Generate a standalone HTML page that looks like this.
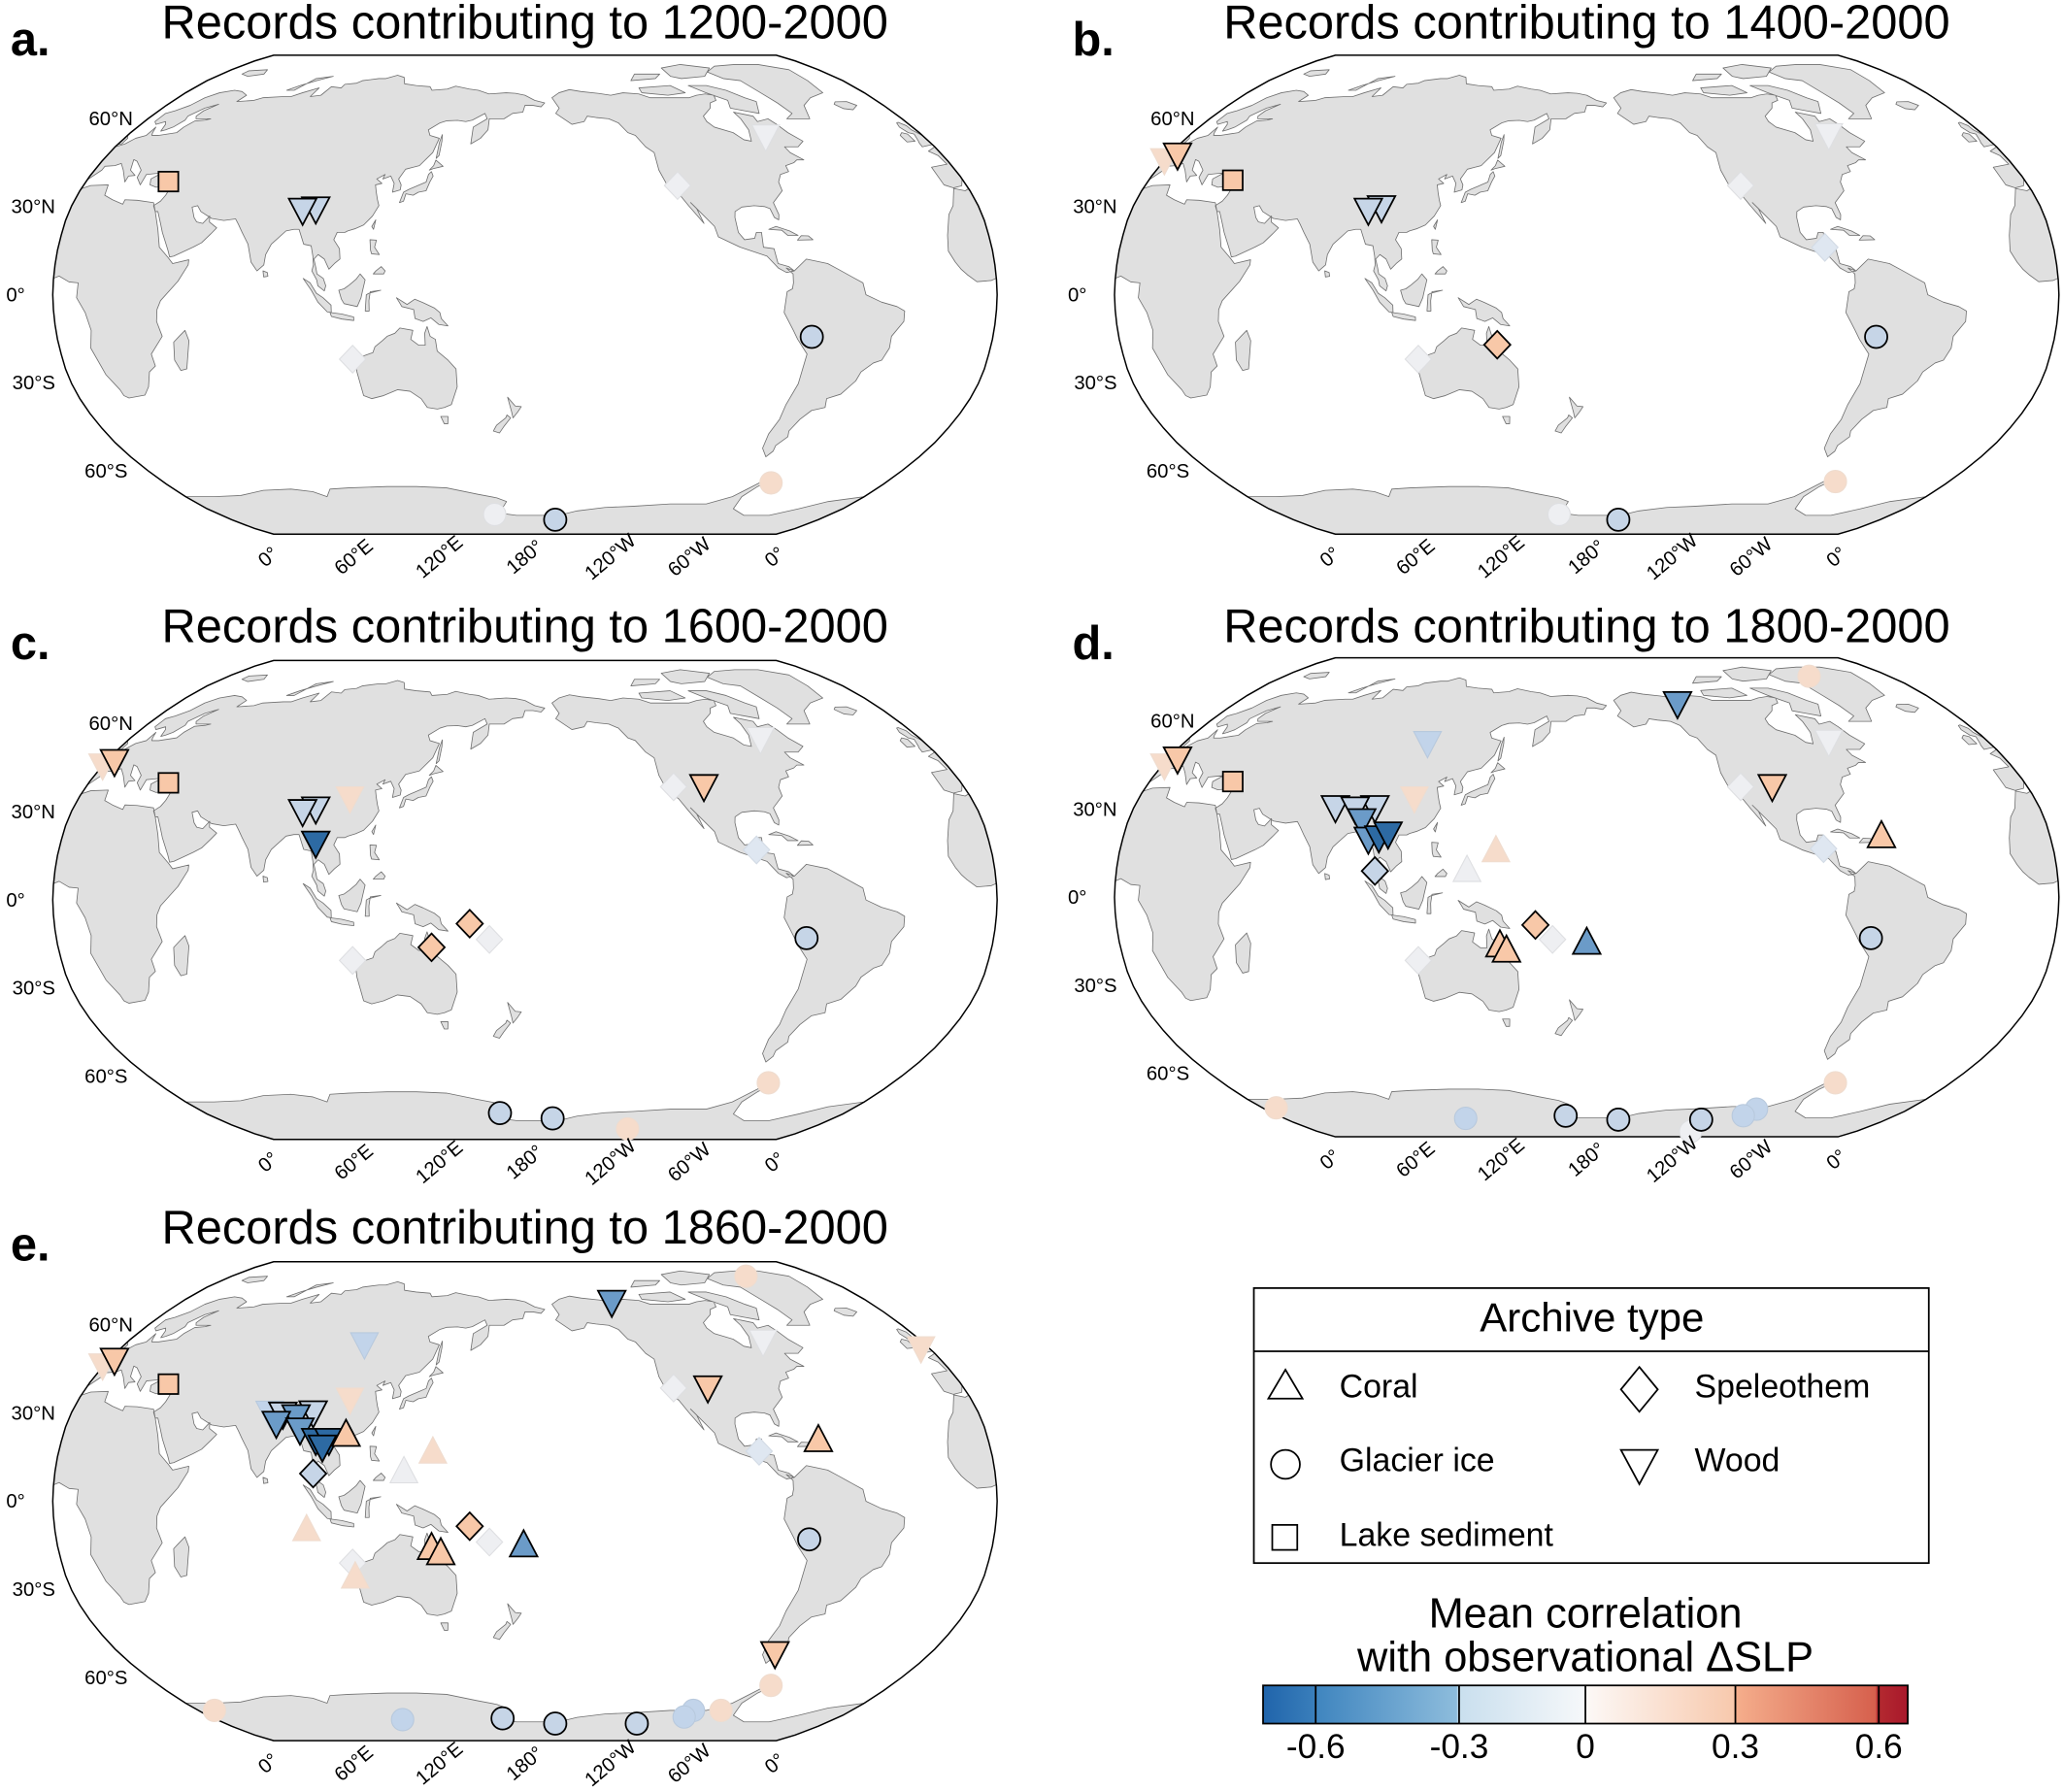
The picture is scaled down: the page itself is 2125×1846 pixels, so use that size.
<!DOCTYPE html>
<html><head><meta charset="utf-8"><style>
html,body{margin:0;padding:0;background:#fff;}
svg{display:block;}
text{font-family:"Liberation Sans",Arial,sans-serif;}
</style></head><body>
<svg id="s" xmlns="http://www.w3.org/2000/svg" width="2125" height="1846" viewBox="0 0 1568 1362" preserveAspectRatio="none">
<defs>
<linearGradient id="cb" x1="0" x2="1" y1="0" y2="0">
<stop offset="0" stop-color="#2064ab"/>
<stop offset="0.082" stop-color="#3a7fbb"/>
<stop offset="0.082" stop-color="#3f85bf"/>
<stop offset="0.3" stop-color="#8dbcdc"/>
<stop offset="0.303" stop-color="#c9dfee"/>
<stop offset="0.5" stop-color="#f6f8fa"/>
<stop offset="0.5" stop-color="#fcf9f7"/>
<stop offset="0.73" stop-color="#f8c9ad"/>
<stop offset="0.733" stop-color="#f5ae8c"/>
<stop offset="0.95" stop-color="#d6604d"/>
<stop offset="0.953" stop-color="#b42a30"/>
<stop offset="1" stop-color="#a8182b"/>
</linearGradient>
</defs>
<g id="maps"></g>
<!-- legend -->
<rect x="953" y="979" width="513" height="209" fill="#fff" stroke="#000" stroke-width="1.3"/>
<line x1="953" y1="1027" x2="1466" y2="1027" stroke="#000" stroke-width="1.3"/>
<text x="1210" y="1012" font-size="31" text-anchor="middle">Archive type</text>
<polygon points="977,1041 990,1063 964,1063" fill="none" stroke="#000" stroke-width="1.3"/>
<text x="1018" y="1062" font-size="25">Coral</text>
<circle cx="977" cy="1113" r="11" fill="none" stroke="#000" stroke-width="1.3"/>
<text x="1018" y="1118" font-size="25">Glacier ice</text>
<rect x="967" y="1159" width="19" height="19" fill="none" stroke="#000" stroke-width="1.3"/>
<text x="1018" y="1175" font-size="25">Lake sediment</text>
<polygon points="1246,1039 1260,1056 1246,1073 1232,1056" fill="none" stroke="#000" stroke-width="1.3"/>
<text x="1288" y="1062" font-size="25">Speleothem</text>
<polygon points="1232,1102 1260,1102 1246,1128" fill="none" stroke="#000" stroke-width="1.3"/>
<text x="1288" y="1118" font-size="25">Wood</text>
<!-- colorbar -->
<text x="1205" y="1237" font-size="32" text-anchor="middle">Mean correlation</text>
<text x="1205" y="1270" font-size="32" text-anchor="middle">with observational ΔSLP</text>
<rect x="960" y="1281" width="490" height="29" fill="url(#cb)" stroke="#000" stroke-width="1.3"/>
<g stroke="#000" stroke-width="1.3">
<line x1="1000" y1="1281" x2="1000" y2="1310"/><line x1="1109" y1="1281" x2="1109" y2="1310"/>
<line x1="1205" y1="1281" x2="1205" y2="1310"/><line x1="1319" y1="1281" x2="1319" y2="1310"/>
<line x1="1428" y1="1281" x2="1428" y2="1310"/></g>
<g font-size="26" text-anchor="middle">
<text x="1000" y="1336">-0.6</text><text x="1109" y="1336">-0.3</text><text x="1205" y="1336">0</text>
<text x="1319" y="1336">0.3</text><text x="1428" y="1336">0.6</text></g>
</svg>
<script>
(function(){
var NS="http://www.w3.org/2000/svg";
var XT=[1,0.9986,0.9954,0.99,0.9822,0.973,0.96,0.9427,0.9216,0.8962,0.8679,0.835,0.7986,0.7597,0.7186,0.6732,0.6213,0.5722,0.5322];
var YT=[0,0.062,0.124,0.186,0.248,0.31,0.372,0.434,0.4958,0.5571,0.6176,0.6769,0.7346,0.7903,0.8435,0.8936,0.9394,0.9761,1];
var R=134.6;
function rob(d,lat){var a=Math.abs(lat)/5,i=Math.floor(a),f=a-i;if(i>=18){i=17;f=1;}
var X=XT[i]+(XT[i+1]-XT[i])*f,Y=YT[i]+(YT[i+1]-YT[i])*f;
return [0.8487*R*X*d*Math.PI/180,-(lat<0?-1:1)*1.3523*R*Y];}
var land=[
[[-166,68],[-163,64],[-165,62],[-158,58],[-152,59],[-150,61],[-146,60.5],[-140,60],[-136,58.5],[-133,55],[-130,54],[-127,50],[-124,48],[-124,42],[-122,37],[-118,34],[-115,30],[-110,24],[-112,29],[-114,31],[-110,27],[-106,23],[-105,19.5],[-97,16],[-92,14.5],[-87,13],[-83,9],[-80,7.5],[-77,8],[-79,9.5],[-83,10.5],[-84,15.5],[-88,16],[-88,21],[-90,21],[-91,19],[-95,18.5],[-97,21],[-97.5,26],[-97,28],[-94,29.5],[-89,30],[-85,29.7],[-83,29],[-82,26],[-80.5,25.2],[-80,27],[-81,31],[-76,35],[-76,38],[-74,40.5],[-70,41.5],[-70,43.5],[-66,44.5],[-64,45.5],[-61,45.5],[-65,48],[-66,50],[-60,50],[-56,52],[-60,55],[-62,58],[-64,60],[-70,59],[-70,61],[-78,62.5],[-77,60],[-77,56],[-79,52],[-82,52.5],[-85,55],[-92,57],[-94,59],[-94,61],[-88,64],[-86,66],[-82,67],[-81,69],[-85,69.5],[-90,69],[-95,68],[-98,68],[-108,68],[-115,68],[-120,69.5],[-128,70],[-135,69],[-141,69.7],[-150,70.5],[-156,71.3],[-162,70]],
[[-80,73],[-72,71],[-66,68],[-62,66.5],[-66,62],[-72,63],[-78,64],[-76,67],[-84,70],[-90,73]],
[[-118,72],[-100,73],[-95,70],[-105,69],[-118,70]],
[[-90,76],[-75,77],[-65,81],[-80,83],[-95,81],[-95,77]],
[[-120,75],[-105,76],[-100,78],[-115,78]],
[[-55,60],[-44,60],[-40,65],[-32,68],[-22,70],[-20,75],[-18,80],[-30,83],[-45,83],[-60,82],[-70,79],[-66,76],[-58,75],[-55,70],[-52,66],[-50,62]],
[[-80,9],[-77,8],[-72,12],[-64,10.5],[-60,8.5],[-55,6],[-51,4],[-50,0],[-44,-2.5],[-38,-4],[-35,-5.5],[-35,-9],[-39,-14],[-39,-18],[-41,-22],[-44,-23],[-48,-26],[-49,-29],[-53,-33.5],[-58,-35],[-57,-38],[-62,-39],[-65,-42],[-67,-46],[-66,-48],[-69,-51],[-68.5,-53],[-70,-55],[-74,-52],[-75,-47],[-73.5,-42],[-73.5,-37],[-71.5,-30],[-70.5,-20],[-75,-15],[-77,-12],[-81,-6],[-80.5,-2],[-80,1],[-78,2],[-77.5,4],[-77.5,7]],
[[-17,14.7],[-16,20],[-13,27],[-10,30],[-6,35.8],[-2,35],[3,36.8],[10,37],[11,33.5],[15,32],[20,30.5],[20,32],[25,31.8],[32,31],[34,28],[37,22],[39,16],[43,12.5],[45,10.5],[51,11.8],[51,10],[47.5,4.5],[41,-2],[39.5,-5],[39,-9],[40.5,-14],[35,-20],[35.5,-24],[32.5,-26],[30,-31],[27,-33.8],[20,-34.8],[18.4,-34],[18,-32],[15,-27],[12,-18],[13.5,-12],[12,-6],[9,-1],[9.5,4],[6,4.3],[2,6.3],[-2,4.8],[-7.5,4.4],[-11,6.8],[-13,8.5],[-15,11]],
[[-9,43],[-9,37],[-6,36],[-2,36.7],[3,42],[3,43.3],[7,43.5],[9,44.3],[12,42],[16,38],[16,40],[18.5,40.2],[15,42],[13,45.6],[15,45],[19.5,42],[20,39.5],[23,37],[23,40.5],[26,40.8],[29,41],[26,39],[27,37],[30,36.2],[36,36.7],[35.5,33.5],[34.5,31.5],[32.5,30],[34,28],[35,28],[37.5,24],[39,21],[42.5,15],[43.5,12.7],[45,13],[52,16],[55,17.5],[58,20.5],[59.8,22.5],[56.5,24.5],[56,26.5],[54,24],[51.5,24.5],[50,26],[48,29.5],[50,30],[52,28],[57,25.7],[62,25],[66.5,25.5],[68,23.7],[70,21],[73,17],[75,11],[77.5,8],[80,10],[80.3,13.5],[82,17],[87,21.5],[90,22],[92,22],[94.5,17],[97.5,16.5],[98.5,13],[99,10],[98.5,8],[100.5,5],[101,3],[103.5,1.3],[104,3],[103,5.5],[100.5,7],[100,9],[99,12],[100.5,13.5],[103,12],[105,8.6],[107,10.5],[109,12],[108.5,15.5],[106,18.5],[107,21],[110,21],[111,21.5],[114,22.3],[117,23.5],[120,26.5],[122,30],[121,32],[120,34.5],[119,37],[121.5,37.5],[119,39],[122,40.5],[121.5,39],[124.5,40],[126.5,37.5],[126.5,34.5],[129.5,35.3],[129.5,37],[128,39],[130,42.3],[133,43],[135.5,43.5],[140,48],[141.5,53],[137,54],[135.5,56],[140,58.5],[143,59.3],[148,59.4],[152,59],[155,59.5],[160.5,62],[162,60],[156,57],[156,51],[160,53],[163,56],[163,60],[170,60],[174,62],[179,62.5],[180,65],[-176,65],[-172,64.5],[-170,66],[-175,67],[-180,69],[175,69.8],[170,70],[161,69.5],[155,71],[150,71.5],[142,72.7],[138,71.5],[130,71],[128,72.5],[120,73],[113,73.7],[110,76.5],[105,77.5],[100,76],[96,76],[88,75],[86,74],[80,73.5],[80,72],[74,72.5],[73,69],[68,68.5],[68,72],[62,70],[58,68.5],[54,68.5],[44,68],[41,67],[33,66.5],[34,69],[29,70.5],[24,71],[18,70],[14,68],[12,65],[8,63],[5,62],[5,59],[7,58],[10,59],[11.5,58],[13,55.5],[14.5,56],[16.5,57],[18.5,59.5],[17.5,61],[21,64],[25.5,65.5],[22,63],[21.5,61],[23,60],[30,60],[28,59.5],[23.5,59.2],[21.5,57],[21,55],[14,54],[11,54],[10,55],[8.5,57],[8.5,54],[5,53],[3,51],[1.5,50.5],[-1.5,49.5],[-4.5,48.5],[-2,47],[-1.5,44]],
[[114,-22],[114,-26],[115,-34],[118,-35],[123,-34],[129,-32],[134,-32.5],[138,-35],[140,-38],[144,-38.5],[147,-38],[150,-37],[153,-31],[153,-25],[150,-22],[146,-19],[145.5,-15],[143.5,-14],[142.5,-10.7],[141.5,-13],[141.5,-17],[139,-17],[136,-15],[137,-12],[132,-11.2],[130,-13],[127,-14],[125,-15.5],[122,-17.5],[121,-19.5],[117,-20.7]],
[[145,-41],[148,-41],[147.5,-43.5],[146,-43.5]],
[[173,-34.5],[176,-37.5],[178.5,-37.7],[177,-39.5],[175,-41.5],[174.5,-39.5]],
[[172.5,-40.5],[174,-41.5],[171,-44.5],[169,-46.7],[166.5,-46],[168,-44],[172,-41.5]],
[[49.5,-12],[50.5,-15.5],[47.5,-25],[45,-25.5],[43.5,-22],[44.5,-16],[47,-14]],
[[130,31],[131.5,31.5],[132,34],[135,33.5],[137,34.5],[140,35],[141,38],[142,40],[141,41.5],[140,40.5],[139.5,38],[137,37],[133,35.5],[131,34.5]],
[[140,42],[141.5,42.5],[145.5,43.3],[142,45.4],[141.5,43.5]],
[[142,46],[143,47],[143,52],[142.5,54.3],[142,51.5]],
[[109,1.5],[111,2],[113,3.3],[115.5,5.2],[117,7],[119,5],[118,1],[117.5,-1],[116,-4],[111,-3],[110,-1.5]],
[[95.3,5.5],[98,4],[100.5,0.5],[103,-1],[106,-3.5],[106,-6],[104.5,-5.8],[101,-2.5],[98.5,1.5]],
[[105.5,-6],[110,-6.5],[114.5,-7.5],[114.5,-8.7],[110,-8.2],[106,-7.3]],
[[119,-5.5],[120.5,-5.5],[120.5,-2],[121,1],[125,1.5],[120.5,0.5],[119.5,0]],
[[131,-1],[135,-3.3],[138,-1.5],[141,-2.6],[145.5,-4.5],[147.5,-6],[148,-8],[150.5,-10.5],[147,-10],[144,-7.8],[141,-9],[138,-8],[137.5,-5],[133,-4],[132,-2.5]],
[[120,18.5],[122.5,18.4],[122,16],[124,13.5],[121,13.8],[120.5,15]],
[[122,7],[126,7],[126.5,8],[125,9.5],[123,8]],
[[120.2,23],[121.5,25.2],[121,22]],
[[79.8,8],[81.5,7.5],[81.8,6.2],[80.2,6]],
[[-5.5,50],[1.5,51],[1.5,53],[0,54],[-2,56],[-2,57.5],[-4,58.7],[-5,58.5],[-6,57],[-5,55],[-3,54.5],[-4.5,52],[-5,51.5]],
[[-6,52],[-6,54.5],[-8,55],[-10,54],[-10,51.7]],
[[-24,65.5],[-22,66.4],[-16,66.5],[-13.5,65],[-18,63.4],[-22,63.8]],
[[52,71],[56,71],[60,76],[68,77],[62,75],[56,73]],
[[12,78],[18,77],[25,78],[22,80],[12,79.5]],
[[-85,22],[-82,23],[-77,21.5],[-74,20],[-78,20],[-80,21.7]],
[[-74.5,18.4],[-68.5,18.5],[-70,19.8],[-72.8,19.9]]
];
var ant=[[-180,-78],[-160,-78],[-150,-76],[-135,-74.5],[-120,-74],[-100,-73],[-80,-73],[-70,-70],[-62,-64],[-58,-63.5],[-62,-66],[-65,-70],[-62,-75],[-50,-78],[-35,-78],[-25,-75],[-15,-72],[0,-70],[15,-70],[30,-69.5],[45,-67.5],[60,-67],[70,-68],[75,-70],[80,-67],[90,-66.5],[110,-66],[125,-66],[140,-66.5],[155,-69],[165,-70.5],[170,-72],[165,-77],[175,-78]];
function unwrap(poly){var out=[],prev=null;poly.forEach(function(p){var d=p[0]-180;while(d>180)d-=360;while(d<=-180)d+=360;
if(prev!==null){while(d-prev>180)d-=360;while(d-prev<-180)d+=360;}prev=d;out.push([d,p[1]]);});return out;}
function pathFor(pts,cx,cy,off){var s="";pts.forEach(function(p,i){var q=rob(p[0]+off,p[1]);s+=(i?"L":"M")+(cx+q[0]).toFixed(1)+","+(cy+q[1]).toFixed(1);});return s+"Z";}
var U=land.map(unwrap);
// Antarctica: coast d from -360 to 0 (lon -180..180 -> d -360..0), extend across three periods
var AC=ant.map(function(p){return [p[0]-180,p[1]];});
var AE=[];[0,360,720].forEach(function(o){AC.forEach(function(p){AE.push([p[0]+o,p[1]]);});});
AE.push([AE[AE.length-1][0],-90]);AE.push([AE[0][0],-90]);
var G=document.getElementById("maps"),defs=document.querySelector("defs");
function outline(cx,cy){var s="",lat;for(lat=-90;lat<=90;lat+=5){var q=rob(-180,lat);s+=(lat==-90?"M":"L")+(cx+q[0]).toFixed(1)+","+(cy+q[1]).toFixed(1);}
for(lat=90;lat>=-90;lat-=5){var q2=rob(180,lat);s+="L"+(cx+q2[0]).toFixed(1)+","+(cy+q2[1]).toFixed(1);}return s+"Z";}
var ST={P:["#f8c8a8","#000"],p:["#f6dccb","#efdccf"],L:["#c6d5e7","#000"],l:["#dfe7f1","#d3dbe5"],w:["#eeeff2","#dedfe2"],M:["#6b9bc8","#000"],D:["#2d6aa3","#000"],B:["#c2d4ea","#b8c9dd"]};
function mk(t,x,y,s){var st=ST[s],e;
if(t=="o"){e=document.createElementNS(NS,"circle");e.setAttribute("cx",x);e.setAttribute("cy",y);e.setAttribute("r",8.5);}
else if(t=="s"){e=document.createElementNS(NS,"rect");e.setAttribute("x",x-7.5);e.setAttribute("y",y-7.5);e.setAttribute("width",15);e.setAttribute("height",15);}
else{e=document.createElementNS(NS,"polygon");var pts;
if(t=="v")pts=[[x-10.5,y-7],[x+10.5,y-7],[x,y+13]];else if(t=="^")pts=[[x,y-13],[x+10.5,y+7],[x-10.5,y+7]];else pts=[[x,y-10.5],[x+10,y],[x,y+10.5],[x-10,y]];
e.setAttribute("points",pts.map(function(p){return p.join(",");}).join(" "));}
e.setAttribute("fill",st[0]);e.setAttribute("stroke",st[1]);e.setAttribute("stroke-width",st[1]=="#000"?1.3:0.8);return e;}
var panels=[
{cx:399,cy:224,L:"a.",T:"Records contributing to 1200-2000",ty:29,m:[["s",128,138,"P"],["v",240,157,"L"],["v",230,158,"L"],["d",515,141,"w"],["v",582,102,"w"],["d",268,273,"w"],["o",617,256,"L"],["o",586,367,"p"],["o",376,391,"w"],["o",422,395,"L"]]},
{cx:1206,cy:224,L:"b.",T:"Records contributing to 1400-2000",ty:29,m:[["v",885,120,"p"],["v",895,116,"P"],["s",937,137,"P"],["v",1050,156,"L"],["v",1040,158,"L"],["d",1323,141,"w"],["v",1390,101,"w"],["d",1387,188,"l"],["d",1138,262,"P"],["d",1078,273,"w"],["o",1426,256,"L"],["o",1395,366,"p"],["o",1185,391,"w"],["o",1230,395,"L"]]},
{cx:399,cy:684,L:"c.",T:"Records contributing to 1600-2000",ty:488,m:[["v",78,580,"p"],["v",87,577,"P"],["s",128,595,"P"],["v",266,605,"p"],["v",240,613,"L"],["v",230,615,"L"],["v",240,639,"D"],["v",578,560,"w"],["d",512,598,"w"],["v",535,596,"P"],["d",575,646,"l"],["d",357,702,"P"],["d",372,714,"w"],["d",328,720,"P"],["d",268,730,"w"],["o",613,713,"L"],["o",584,823,"p"],["o",380,846,"L"],["o",420,850,"L"],["o",477,858,"p"]]},
{cx:1206,cy:682,L:"d.",T:"Records contributing to 1800-2000",ty:488,m:[["o",1375,514,"p"],["v",1275,533,"M"],["v",1085,563,"B"],["v",885,580,"p"],["v",895,575,"P"],["s",937,594,"P"],["v",1075,605,"p"],["v",1390,562,"w"],["d",1323,598,"w"],["v",1347,596,"P"],["v",1015,612,"L"],["v",1045,612,"L"],["v",1030,613,"L"],["v",1035,622,"M"],["v",1040,636,"M"],["v",1048,635,"D"],["v",1055,632,"D"],["d",1045,662,"L"],["^",1115,663,"w"],["^",1137,648,"p"],["^",1430,637,"P"],["d",1386,645,"l"],["d",1167,703,"P"],["d",1180,714,"w"],["^",1140,720,"P"],["^",1145,724,"P"],["^",1206,718,"M"],["d",1078,730,"w"],["o",1422,713,"L"],["o",1395,823,"p"],["o",970,842,"p"],["o",1114,850,"B"],["o",1190,848,"L"],["o",1230,851,"L"],["o",1285,860,"w"],["o",1293,851,"L"],["o",1335,843,"B"],["o",1325,848,"B"]]},
{cx:399,cy:1141,L:"e.",T:"Records contributing to 1860-2000",ty:945,m:[["v",465,988,"M"],["o",567,970,"p"],["v",277,1020,"B"],["v",580,1018,"w"],["v",700,1023,"p"],["v",78,1036,"p"],["v",87,1032,"P"],["s",128,1052,"P"],["v",266,1062,"p"],["d",512,1055,"w"],["v",538,1053,"P"],["v",205,1072,"B"],["v",215,1073,"L"],["v",238,1072,"L"],["v",225,1075,"M"],["v",210,1080,"M"],["v",228,1085,"M"],["v",240,1093,"D"],["v",250,1093,"D"],["v",245,1098,"D"],["^",263,1092,"P"],["^",307,1120,"w"],["^",329,1105,"p"],["^",622,1096,"P"],["d",577,1103,"l"],["d",238,1120,"L"],["^",233,1164,"p"],["d",357,1160,"P"],["d",372,1172,"w"],["^",328,1178,"P"],["^",335,1182,"P"],["^",398,1176,"M"],["d",268,1188,"w"],["^",270,1200,"p"],["o",615,1170,"L"],["v",589,1255,"P"],["o",586,1281,"p"],["o",163,1300,"p"],["o",306,1307,"B"],["o",382,1306,"L"],["o",422,1310,"L"],["o",484,1310,"L"],["o",527,1300,"B"],["o",520,1305,"B"],["o",548,1300,"p"]]}
];
panels.forEach(function(P,k){
var cp=document.createElementNS(NS,"clipPath");cp.setAttribute("id","c"+k);var cpp=document.createElementNS(NS,"path");var ol=outline(P.cx,P.cy);cpp.setAttribute("d",ol);cp.appendChild(cpp);defs.appendChild(cp);
var g=document.createElementNS(NS,"g");g.setAttribute("clip-path","url(#c"+k+")");
var d="";U.forEach(function(pts){[-360,0,360].forEach(function(o){d+=pathFor(pts,P.cx,P.cy,o);});});
d+=pathFor(AE,P.cx,P.cy,0);
var lp=document.createElementNS(NS,"path");lp.setAttribute("d",d);lp.setAttribute("fill","#e0e0e0");lp.setAttribute("stroke","#6f6f6f");lp.setAttribute("stroke-width","0.6");lp.setAttribute("stroke-linejoin","round");g.appendChild(lp);G.appendChild(g);
var op=document.createElementNS(NS,"path");op.setAttribute("d",ol);op.setAttribute("fill","none");op.setAttribute("stroke","#000");op.setAttribute("stroke-width","1.1");G.appendChild(op);
P.m.forEach(function(m){G.appendChild(mk(m[0],m[1],m[2],m[3]));});
function tx(x,y,s,sz,anc,extra){var t=document.createElementNS(NS,"text");t.setAttribute("x",x);t.setAttribute("y",y);t.setAttribute("font-size",sz);if(anc)t.setAttribute("text-anchor",anc);if(extra)for(var a in extra)t.setAttribute(a,extra[a]);t.textContent=s;G.appendChild(t);return t;}
tx(P.cx,P.ty,P.T,36,"middle");
tx(P.cx-391,P.ty+13,P.L,36,null,{"font-weight":"bold"});
var la=[["60°N",-298,-134],["30°N",-357,-67],["0°",-380,0],["30°S",-357,67],["60°S",-302,134]];
la.forEach(function(l){tx(P.cx+l[1],P.cy+l[2]+5,l[0],15,"end");});
var lo=[["0°",-192],["60°E",-127],["120°E",-62],["180°",3],["120°W",68],["60°W",128],["0°",193]];
lo.forEach(function(l){var x=P.cx+l[1],y=P.cy+203;tx(x,y,l[0],15,"middle",{transform:"rotate(-40 "+x+" "+y+")"});});
});
})();
</script>
</body></html>
